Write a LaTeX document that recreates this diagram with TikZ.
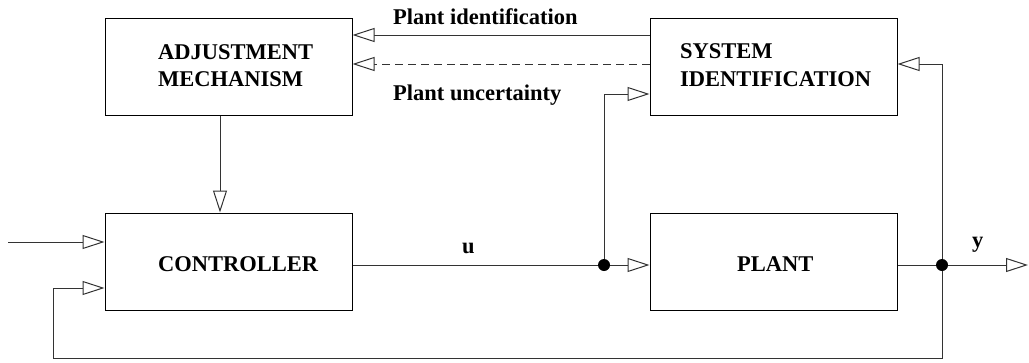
\documentclass[tikz,border=0pt]{standalone}
\usepackage{fontspec}
\setmainfont{Liberation Serif}
\usetikzlibrary{arrows.meta,calc}
\begin{document}
\begin{tikzpicture}[x=1pt,y=-1pt,
 box/.style={draw,line width=1pt,minimum width=247pt,minimum height=97pt,inner sep=0pt},
 lbl/.style={font=\fontsize{22.5}{27}\selectfont\bfseries,anchor=base west,inner sep=0pt},
 conn/.style={line width=1pt,draw=black!80},
 arr/.style={conn,-{Triangle[open,length=22pt,width=14pt,fill=white]}},
 jdot/.style={circle,fill=black,minimum size=12pt,inner sep=0pt}]
\useasboundingbox (0,0) rectangle (1029,362);
% boxes
\node[box] (adj) at (228.5,66.5) {};
\node[box] (sid) at (773.5,66.5) {};
\node[box] (ctrl) at (228.5,261.5) {};
\node[box] (plant) at (773.5,261.5) {};
% texts
\node[lbl] (t1) at (158,59) {ADJUSTMENT};
\node[lbl] (t2) at (158,86) {MECHANISM};
\node[lbl] (t3) at (680,58) {SYSTEM};
\node[lbl] (t4) at (680,86) {IDENTIFICATION};
\node[lbl] (t5) at (158,271) {CONTROLLER};
\node[lbl] (t6) at (737,271) {PLANT};
\node[lbl] (lu) at (462,253) {u};
\node[lbl] (ly) at (972,247) {y};
\node[lbl] (lpi) at (393,24) {Plant identification};
\node[lbl] (lpu) at (393,100) {Plant uncertainty};
% coordinates
\coordinate (j1) at (604,265);
\coordinate (j2) at (942,265);
\coordinate (in) at (8,242);
\coordinate (out) at (1028,265);
\coordinate (fb) at (53,358);
% connectors
\draw[arr] (sid.west |- 0,35) -- (adj.east |- 0,35);
\draw[arr,dash pattern=on 8pt off 5pt] (sid.west |- 0,64) -- (adj.east |- 0,64);
\draw[arr] (adj.south -| 220,0) -- (ctrl.north -| 220,0);
\draw[arr] (in) -- (ctrl.west |- in);
\draw[conn] (ctrl.east |- j1) -- (j1);
\draw[arr] (j1) -- (plant.west |- j1);
\draw[arr] (j1) |- (sid.west |- 0,94);
\draw[conn] (plant.east |- j2) -- (j2);
\draw[arr] (j2) -- (out);
\draw[arr] (j2) |- (sid.east |- 0,64);
\draw[arr] (j2) |- (fb) |- (ctrl.west |- 0,288);
\node[jdot] (d1) at (j1) {};
\node[jdot] (d2) at (j2) {};
\end{tikzpicture}
\end{document}
